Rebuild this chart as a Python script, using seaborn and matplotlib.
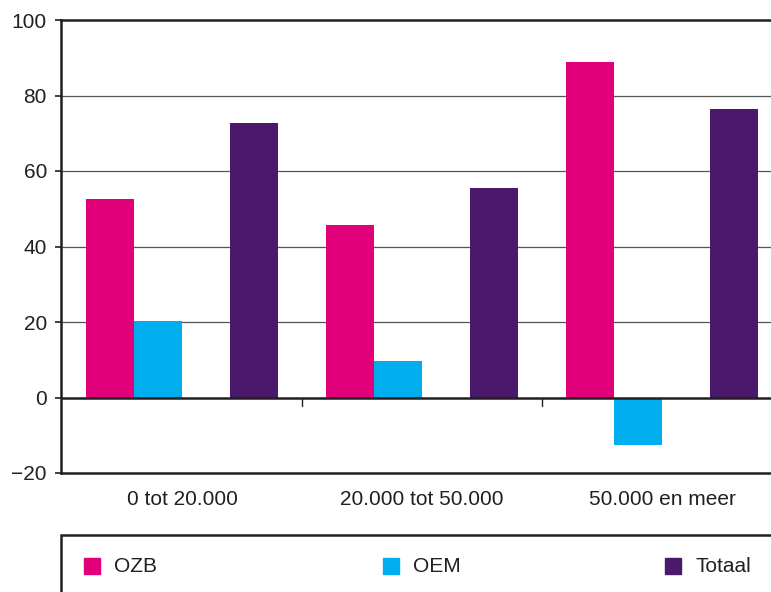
import pandas as pd
import matplotlib.pyplot as plt
import seaborn as sns
from matplotlib.patches import Rectangle

# data
categories = ['0 tot 20.000', '20.000 tot 50.000', '50.000 en meer']
ozb = [52.5, 45.8, 89.0]
oem = [20.3, 9.7, -12.7]
totaal = [72.8, 55.5, 76.5]

series = ['OZB', 'OEM', ' ', 'Totaal']  # lege plek tussen OEM en Totaal
colors = {'OZB': '#E2007A', 'OEM': '#00AEEF', ' ': '#FFFFFF', 'Totaal': '#4B196B'}
line_col = '#231F20'

df = pd.DataFrame({
    'categorie': categories * 3,
    'reeks': ['OZB'] * 3 + ['OEM'] * 3 + ['Totaal'] * 3,
    'waarde': ozb + oem + totaal,
})

sns.set_style('white')
plt.rcParams['font.family'] = ['Liberation Sans', 'DejaVu Sans']

fig = plt.figure(figsize=(7.71, 5.92), dpi=100)
ax = fig.add_axes([61 / 771, 1 - 473 / 592, 720 / 771, 453 / 592])

sns.barplot(data=df, x='categorie', y='waarde', hue='reeks', order=categories,
            hue_order=series, palette=colors, width=0.8, saturation=1,
            errorbar=None, legend=False, linewidth=0, zorder=2, ax=ax)

ax.set_xlim(-0.505, 2.495)
ax.set_ylim(-20, 100)
ax.set_yticks(range(-20, 101, 20))
ax.set_xlabel('')
ax.set_ylabel('')

# rasterlijnen
for y in [20, 40, 60, 80]:
    ax.axhline(y, color='#555555', lw=0.9, zorder=0)
ax.axhline(0, color=line_col, lw=1.8, zorder=3)
for x in [0.5, 1.5]:
    ax.plot([x, x], [0, -2.2], color=line_col, lw=1.0, zorder=3)

for side in ['left', 'top', 'bottom']:
    ax.spines[side].set_color(line_col)
    ax.spines[side].set_linewidth(1.8)
ax.spines['right'].set_visible(False)

ax.tick_params(axis='y', length=4.3, width=1.2, color=line_col, pad=5.8,
               labelsize=15, labelcolor=line_col, left=True)
ax.tick_params(axis='x', length=0, pad=12.5, labelsize=15, labelcolor=line_col)

# legenda onderaan
fig.add_artist(Rectangle((61 / 771, -0.2), 1.0, 0.2 + (1 - 535 / 592),
                         transform=fig.transFigure, fill=False,
                         edgecolor=line_col, lw=1.8, clip_on=False))
legend_pos = [(84, 'OZB'), (383, 'OEM'), (665, 'Totaal')]
for px, name in legend_pos:
    fig.add_artist(Rectangle((px / 771, 1 - 574 / 592), 16 / 771, 16 / 592,
                             transform=fig.transFigure, color=colors[name]))
    fig.text((px + 30) / 771, 1 - 566 / 592, name, fontsize=15,
             color=line_col, va='center', ha='left')

plt.savefig('out.png', dpi=100)
